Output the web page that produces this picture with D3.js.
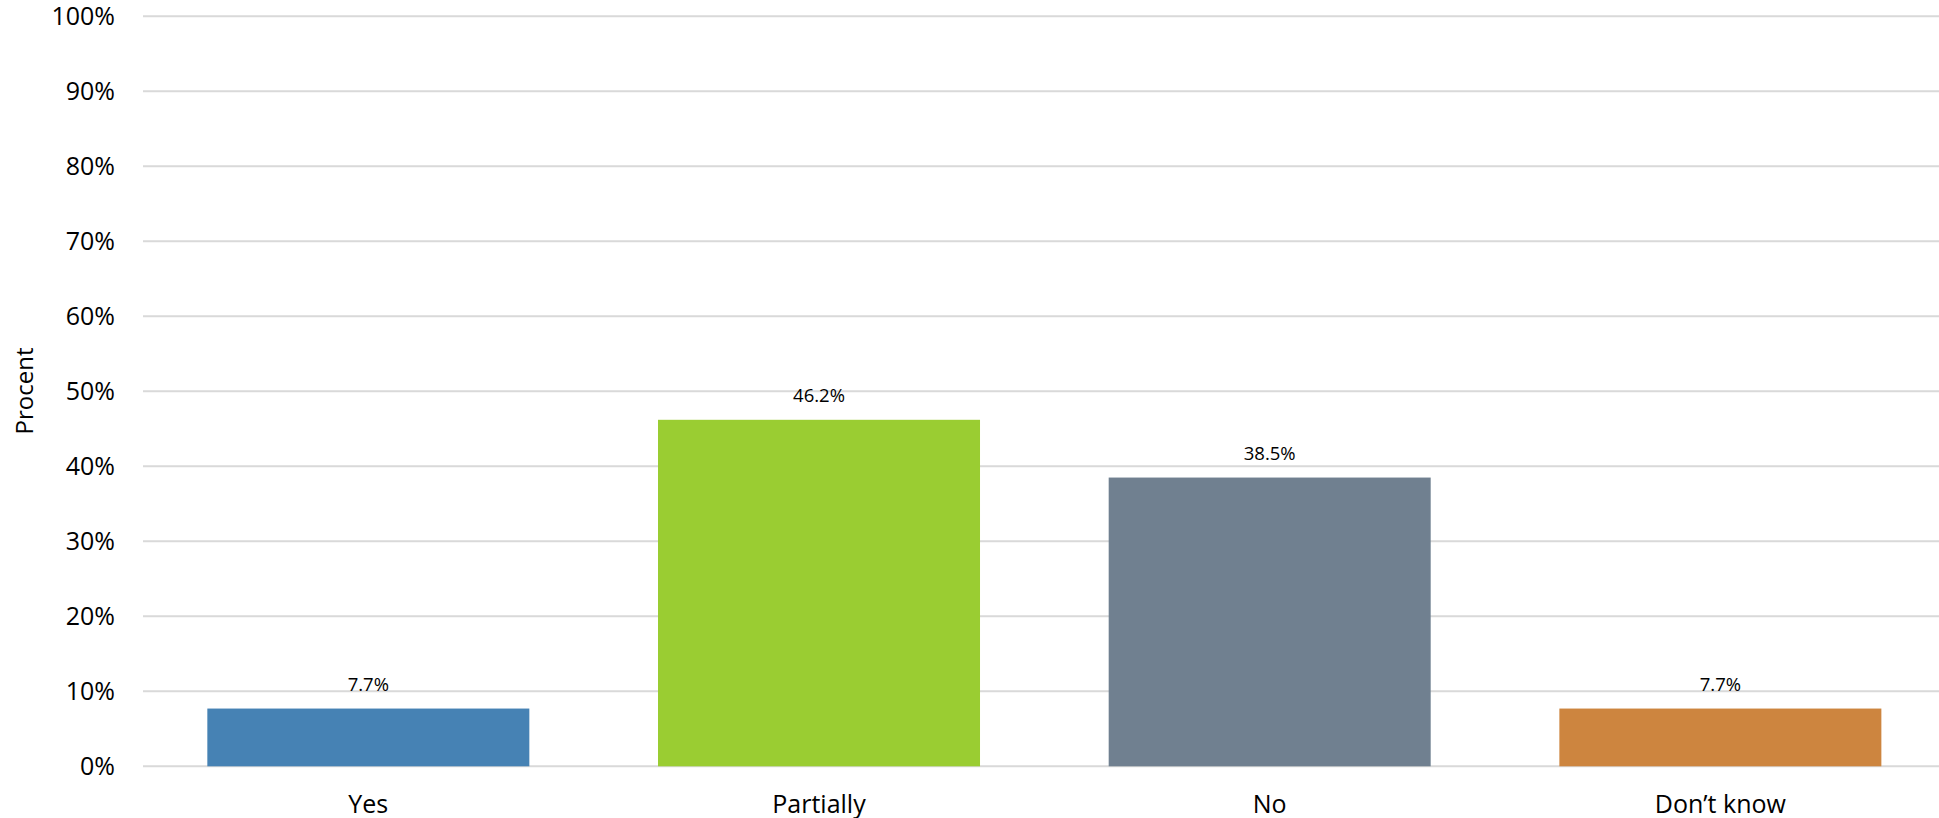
<!DOCTYPE html>
<html>
<head>
<meta charset="utf-8">
<script src="https://cdn.jsdelivr.net/npm/d3@7"></script>
<style>
  html, body { margin: 0; padding: 0; background: #fff; }
  svg { display: block; font-family: "Open Sans", "Noto Sans", sans-serif; }
</style>
</head>
<body>
<svg id="chart" width="1939" height="818"></svg>
<script>
// Survey answers and their shares (percent)
const categories = ["Yes", "Partially", "No", "Don\u2019t know"];
const values = [7.7, 46.2, 38.5, 7.7];
const barColors = ["#4682B4", "#9ACD32", "#708090", "#CD853F"];
const yTicks = [0, 10, 20, 30, 40, 50, 60, 70, 80, 90, 100];
const yTitle = "Procent";

const svg = d3.select("#chart");
const W = 1939, H = 818;
const plot = { left: 143, right: 1945.7, top: 16.3, bottom: 766.3 };

const x = d3.scaleBand()
  .domain(categories)
  .range([plot.left, plot.right])
  .paddingInner(0.2855)
  .paddingOuter(0.14275);

const y = d3.scaleLinear()
  .domain([0, 100])
  .range([plot.bottom, plot.top]);

// Horizontal gridlines
svg.append("g")
  .selectAll("line")
  .data(yTicks)
  .join("line")
  .attr("x1", plot.left)
  .attr("x2", W)
  .attr("y1", d => y(d))
  .attr("y2", d => y(d))
  .attr("stroke", "#d9d9d9")
  .attr("stroke-width", 2);

// Y tick labels
svg.append("g")
  .selectAll("text")
  .data(yTicks)
  .join("text")
  .attr("x", 115)
  .attr("y", d => y(d))
  .attr("dy", "0.36em")
  .attr("text-anchor", "end")
  .attr("font-size", 25)
  .attr("fill", "#000")
  .text(d => d + "%");

// Y axis title
svg.append("text")
  .attr("transform", "translate(33,391) rotate(-90)")
  .attr("text-anchor", "middle")
  .attr("font-size", 24)
  .attr("fill", "#000")
  .text(yTitle);

// Bars
svg.append("g")
  .selectAll("rect")
  .data(categories)
  .join("rect")
  .attr("x", d => x(d))
  .attr("width", x.bandwidth())
  .attr("y", (d, i) => y(values[i]))
  .attr("height", (d, i) => y(0) - y(values[i]))
  .attr("fill", (d, i) => barColors[i]);

// Value labels above bars
svg.append("g")
  .selectAll("text")
  .data(categories)
  .join("text")
  .attr("x", d => x(d) + x.bandwidth() / 2)
  .attr("y", (d, i) => y(values[i]) - 17.5)
  .attr("text-anchor", "middle")
  .attr("font-size", 18.5)
  .attr("fill", "#000")
  .text((d, i) => values[i].toFixed(1) + "%");

// Category labels
svg.append("g")
  .selectAll("text")
  .data(categories)
  .join("text")
  .attr("x", d => x(d) + x.bandwidth() / 2)
  .attr("y", 812.7)
  .attr("text-anchor", "middle")
  .attr("font-size", 25)
  .attr("fill", "#000")
  .text(d => d);
</script>
</body>
</html>
